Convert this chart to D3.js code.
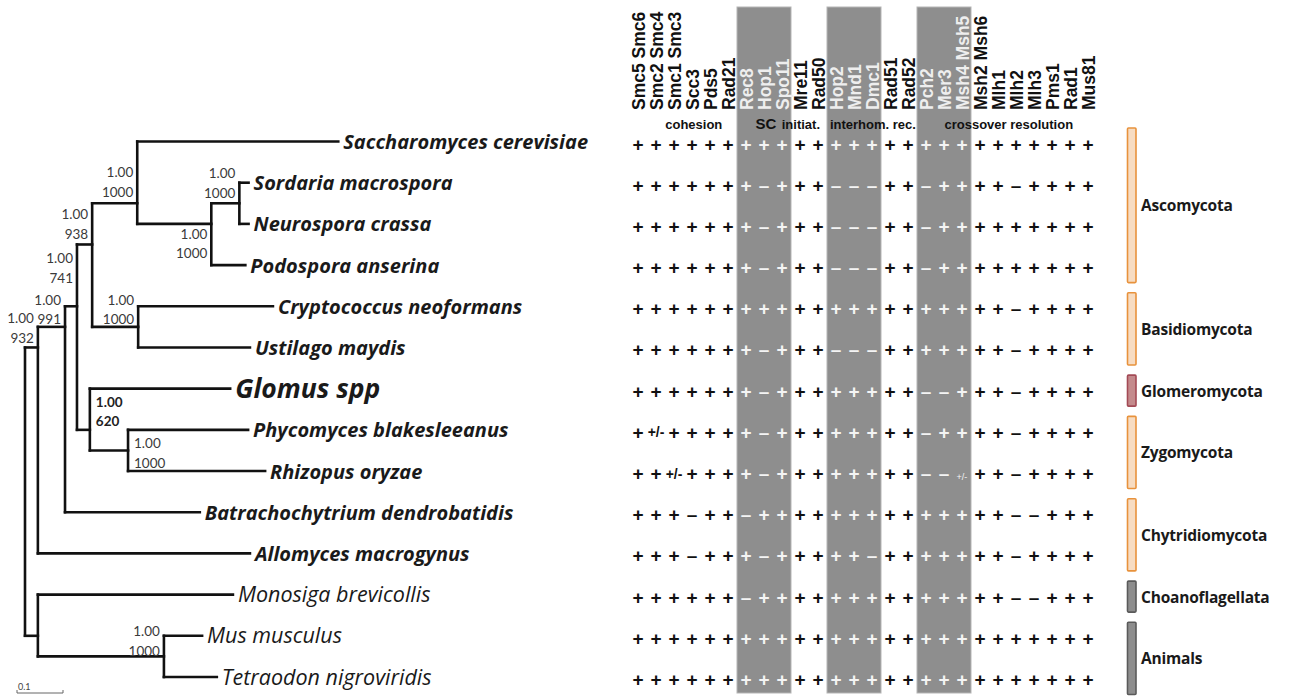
<!DOCTYPE html>
<html><head><meta charset="utf-8">
<script src="https://cdn.jsdelivr.net/npm/d3@7"></script>
<style>body{margin:0;background:#fff}svg{display:block}</style>
</head><body>
<script>
// ---------------- DATA ----------------
const taxa = ["Saccharomyces cerevisiae","Sordaria macrospora","Neurospora crassa","Podospora anserina",
  "Cryptococcus neoformans","Ustilago maydis","Glomus spp","Phycomyces blakesleeanus","Rhizopus oryzae",
  "Batrachochytrium dendrobatidis","Allomyces macrogynus","Monosiga brevicollis","Mus musculus","Tetraodon nigroviridis"];
const fungi = taxa.slice(0, 11);
const highlightTaxon = "Glomus spp";

const genes = ["Smc5 Smc6","Smc2 Smc4","Smc1 Smc3","Scc3","Pds5","Rad21","Rec8","Hop1","Spo11","Mre11","Rad50",
  "Hop2","Mnd1","Dmc1","Rad51","Rad52","Pch2","Mer3","Msh4 Msh5","Msh2 Msh6","Mlh1","Mlh2","Mlh3","Pms1","Rad1","Mus81"];
const shadedGenes = ["Rec8","Hop1","Spo11","Hop2","Mnd1","Dmc1","Pch2","Mer3","Msh4 Msh5"];

const processLabels = ["cohesion","SC","initiat.","interhom. rec.","crossover resolution"];
const processCenterCol = [3.1, 7.1, 9.05, 13.05, 20.6];

const presence = [
 "+ + + + + + + + + + + + + + + + + + + + + + + + + +",
 "+ + + + + + + - + + + - - - + + - + + + + - + + + +",
 "+ + + + + + + - + + + - - - + + - + + + + + + + + +",
 "+ + + + + + + - + + + - - - + + - + + + + + + + + +",
 "+ + + + + + + + + + + + + + + + + + + + + - + + + +",
 "+ + + + + + + - + + + - - - + + + + + + + - + + + +",
 "+ + + + + + + - + + + + + + + + - - + + + - + + + +",
 "+ +/- + + + + + - + + + + + + + + - + + + + - + + + +",
 "+ + +/- + + + + - + + + + + + + + - - +/- + + - + + + +",
 "+ + + - + + - + + + + + + + + + + + + + + - - + + +",
 "+ + + - + + + - + + + + + - + + + + + + + - + + + +",
 "+ + + + + + - + + + + + + + + + + + + + + - - + + +",
 "+ + + + + + + + + + + + + + + + + + + + + + + + + +",
 "+ + + + + + + + + + + + + + + + + + + + + + + + + +"
];

// phylogeny: branch lengths (substitutions/site), leaves refer to taxa index
const tree = {id:"K", children:[
  {id:"J", len:0.028, children:[
    {id:"I", len:0.059, children:[
      {id:"F", len:0.026, children:[
        {id:"D", len:0.033, children:[
          {id:"A", len:0.098, children:[
            {leaf:0, len:0.437},
            {id:"B", len:0.161, children:[
              {id:"C", len:0.061, children:[{leaf:1, len:0.020},{leaf:2, len:0.020}]},
              {leaf:3, len:0.074}]}]},
          {id:"E", len:0.100, children:[{leaf:4, len:0.293},{leaf:5, len:0.243}]}]},
        {id:"G", len:0.028, children:[
          {leaf:6, len:0.305},
          {id:"H", len:0.083, children:[{leaf:7, len:0.261},{leaf:8, len:0.298}]}]}]},
      {leaf:9, len:0.293}]},
    {leaf:10, len:0.461}]},
  {id:"L", len:0.028, children:[
    {leaf:11, len:0.424},
    {id:"M", len:0.274, children:[{leaf:12, len:0.083},{leaf:13, len:0.115}]}]}]};

const supportNodes = ["A","B","C","D","E","F","G","H","I","J","M"];
const posterior    = ["1.00","1.00","1.00","1.00","1.00","1.00","1.00","1.00","1.00","1.00","1.00"];
const bootstrap    = ["1000","1000","1000","938","1000","741","620","1000","991","932","1000"];

const groups      = ["Ascomycota","Basidiomycota","Glomeromycota","Zygomycota","Chytridiomycota","Choanoflagellata","Animals"];
const groupFirst  = [0, 4, 6, 7, 9, 11, 12];
const groupLast   = [3, 5, 6, 8, 10, 11, 13];
const groupKind   = ["fungi","fungi","glomero","fungi","fungi","other","other"];

// ---------------- LAYOUT / STYLE ----------------
const W = 1295, H = 696;
const svg = d3.select("body").append("svg").attr("width", W).attr("height", H);

const yTree = d3.scalePoint().domain(taxa).range([141.5, 677]);
const yRow = t => yTree(t) + 2.5;
const xLen = d3.scaleLinear().domain([0, 0.1]).range([25, 71]);
const xCol = d3.scalePoint().domain(genes).range([638, 1088]);
const colStep = xCol.step();

// shaded bands
const shadedIdx = genes.map((g,i)=>shadedGenes.includes(g)?i:-1).filter(i=>i>=0);
const runs = [];
shadedIdx.forEach(i=>{ const r = runs[runs.length-1]; if (r && r[1]===i-1) r[1]=i; else runs.push([i,i]); });
svg.append("g").selectAll("rect").data(runs).join("rect")
  .attr("x", d=>xCol(genes[d[0]]) - colStep/2)
  .attr("width", d=>xCol(genes[d[1]]) - xCol(genes[d[0]]) + colStep)
  .attr("y", 7).attr("height", 686)
  .attr("fill", "#8e8e8e").attr("stroke", "#b5b5b5").attr("stroke-width", 1);

// column headers
svg.append("g").selectAll("text").data(genes).join("text")
  .attr("transform", g=>`translate(${xCol(g)+6.5},110) rotate(-90)`)
  .attr("font-family", "'Liberation Sans', Arial, sans-serif")
  .attr("font-weight", "bold").attr("font-size", 17.5)
  .attr("fill", g=>shadedGenes.includes(g) ? "#eeeeee" : "#111")
  .text(g=>g);

// process labels
const colPos = d3.scaleLinear().domain([0, genes.length-1]).range(xCol.range());
svg.append("g").selectAll("text").data(processLabels).join("text")
  .attr("x", (d,i)=>colPos(processCenterCol[i])).attr("y", 129)
  .attr("text-anchor", "middle")
  .attr("font-family", "'Liberation Sans', Arial, sans-serif")
  .attr("font-weight", "bold").attr("font-size", d=>d==="SC"?15:13)
  .attr("fill", "#111").text(d=>d);

// presence table
const cells = [];
presence.forEach((row, r)=>row.split(" ").forEach((v, c)=>cells.push({taxon:taxa[r], gene:genes[c], v})));
svg.append("g").selectAll("text").data(cells).join("text")
  .attr("x", d=>xCol(d.gene)).attr("y", d=>yRow(d.taxon) + (d.v==="+/-" ? (shadedGenes.includes(d.gene)?6:5) : 6.5))
  .attr("text-anchor", "middle")
  .attr("font-family", "'Liberation Sans', Arial, sans-serif")
  .attr("font-weight", d=>d.v==="+/-" && shadedGenes.includes(d.gene) ? "normal" : "bold")
  .attr("font-size", d=>d.v==="+/-" ? (shadedGenes.includes(d.gene)?9:14) : 19)
  .attr("fill", d=>shadedGenes.includes(d.gene) ? "#f4f4f4" : "#111")
  .text(d=>d.v==="+" ? "+" : d.v==="-" ? "\u2013" : "+/-");

// tree
const root = d3.hierarchy(tree, d=>d.children);
root.each(n=>{ n.dist = n.parent ? n.parent.dist + n.data.len : 0; n.px = xLen(n.dist); });
root.eachAfter(n=>{
  if (!n.children) n.py = yTree(taxa[n.data.leaf]);
  else { const ls = n.leaves().map(l=>yTree(taxa[l.data.leaf])); n.py = (d3.min(ls)+d3.max(ls))/2; }
});
const gT = svg.append("g").attr("fill","none").attr("stroke","#111").attr("stroke-width",2.6).attr("stroke-linecap","square");
root.descendants().forEach(n=>{
  if (n.parent) gT.append("line").attr("x1", n.parent.px).attr("x2", n.px).attr("y1", n.py).attr("y2", n.py);
  if (n.children) {
    const ys = n.children.map(c=>c.py);
    gT.append("line").attr("x1", n.px).attr("x2", n.px).attr("y1", d3.min(ys)).attr("y2", d3.max(ys));
  }
});

// leaf labels
const leaves = root.leaves();
svg.append("g").selectAll("text").data(leaves).join("text")
  .attr("x", d=>d.px + 5).attr("y", d=>d.py + (taxa[d.data.leaf]===highlightTaxon?9:7.5))
  .attr("font-family", "'Open Sans', Lato, sans-serif").attr("font-style","italic")
  .attr("font-weight", d=>fungi.includes(taxa[d.data.leaf]) ? "bold" : "normal")
  .attr("font-size", d=>taxa[d.data.leaf]===highlightTaxon ? 26.5 : fungi.includes(taxa[d.data.leaf]) ? 20 : 21.5)
  .attr("fill", "#1a1a1a")
  .text(d=>taxa[d.data.leaf]);

// support labels
const labelSide = {A:"l",B:"l",C:"l",D:"l",E:"l",F:"l",G:"r",H:"r",I:"l",J:"l",M:"l"};
const labelDy   = {A:-31,B:10,C:-30,D:-30,E:-27,F:-48,G:-28,H:-7,I:-27,J:-29,M:-25};
const nodeById = {}; root.descendants().forEach(n=>{ if (n.data.id) nodeById[n.data.id] = n; });
const sup = svg.append("g").attr("font-family","Lato, 'Open Sans', sans-serif").attr("font-size",13.5).attr("fill","#333");
supportNodes.forEach((id,i)=>{
  const n = nodeById[id], left = labelSide[id]==="l";
  const x = left ? n.px - 4 : n.px + 6;
  const bold = id==="G";
  [posterior[i], bootstrap[i]].forEach((t,k)=>{
    sup.append("text").attr("x", x).attr("y", n.py + labelDy[id] + k*19.5 + 5)
      .attr("text-anchor", left ? "end" : "start")
      .attr("font-weight", bold ? "bold" : "normal")
      .attr("fill", bold ? "#222" : "#3a3a3a").text(t);
  });
});

// scale bar
const sb = svg.append("g").attr("stroke","#666").attr("stroke-width",1);
sb.append("line").attr("x1", xLen(0)-8).attr("x2", xLen(0.1)-8).attr("y1", 693).attr("y2", 693);
sb.append("line").attr("x1", xLen(0)-8).attr("x2", xLen(0)-8).attr("y1", 690).attr("y2", 693);
sb.append("line").attr("x1", xLen(0.1)-8).attr("x2", xLen(0.1)-8).attr("y1", 690).attr("y2", 693);
svg.append("text").attr("x", xLen(0)-7).attr("y", 690).attr("font-family","Lato, sans-serif").attr("font-size",9).attr("fill","#444").text("0.1");

// group bars
const kindFill   = {fungi:"#f7dcc2", glomero:"#c48a8c", other:"#8d8d8d"};
const kindStroke = {fungi:"#e8923c", glomero:"#a34a55", other:"#5a5a5a"};
const gg = svg.append("g");
groups.forEach((g,i)=>{
  const y0 = yRow(taxa[groupFirst[i]]) - 16, y1 = yRow(taxa[groupLast[i]]) + 15;
  gg.append("rect").attr("x",1127.5).attr("y",y0).attr("width",8.5).attr("height",y1-y0)
    .attr("fill",kindFill[groupKind[i]]).attr("stroke",kindStroke[groupKind[i]]).attr("stroke-width",1.6).attr("rx",1);
  gg.append("text").attr("x",1141).attr("y",(y0+y1)/2 + 6)
    .attr("font-family","'Open Sans', Lato, sans-serif").attr("font-weight","bold").attr("font-size",15.5)
    .attr("letter-spacing",-0.2)
    .attr("fill","#1a1a1a").text(g);
});
</script>
</body></html>
